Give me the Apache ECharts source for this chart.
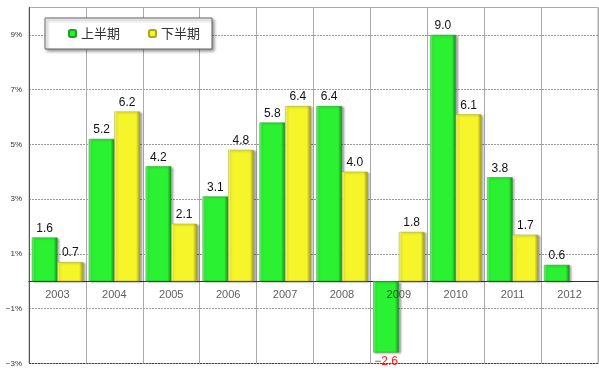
<!DOCTYPE html>
<html><head><meta charset="utf-8">
<script src="https://cdn.jsdelivr.net/npm/echarts@6/dist/echarts.min.js"></script>
<style>html,body{margin:0;padding:0;background:#fff}#c{width:599px;height:371px}</style>
</head><body><div id="c"></div>
<script>
const categories = ['2003','2004','2005','2006','2007','2008','2009','2010','2011','2012'];
const firstHalf = [1.6, 5.2, 4.2, 3.1, 5.8, 6.4, -2.6, 9.0, 3.8, 0.6];
const secondHalf = [0.7, 6.2, 2.1, 4.8, 6.4, 4.0, 1.8, 6.1, 1.7, null];
const seriesNames = ['上半期', '下半期'];

function grad(light, mid, dark) {
  return new echarts.graphic.LinearGradient(0, 0, 1, 0, [
    {offset: 0, color: light}, {offset: 0.12, color: mid}, {offset: 0.85, color: mid}, {offset: 1, color: dark}
  ]);
}
function toData(arr) {
  return arr.map(v => v == null ? null : (v < 0 ? {value: v, label: {position: 'bottom', color: '#ff2020'}} : v));
}
const labelCfg = {show: true, position: 'top', distance: 3, color: '#111', fontSize: 12, fontFamily: 'Liberation Sans, Arial, sans-serif', formatter: p => p.value.toFixed(1).replace('-', '−')};
const chart = echarts.init(document.getElementById('c'), null, {renderer: 'canvas'});
chart.setOption({
  animation: false,
  grid: {left: 29, right: 1, top: 7.5, bottom: 7.5, show: true, borderColor: '#aaa', borderWidth: 1, backgroundColor: '#fff'},
  legend: {
    left: 45, top: 18, padding: [9, 12, 9, 23], itemGap: 28, itemWidth: 7, itemHeight: 7,
    backgroundColor: '#fff', borderColor: '#666', borderWidth: 1,
    shadowBlur: 3, shadowOffsetX: 2, shadowOffsetY: 2, shadowColor: 'rgba(0,0,0,0.45)',
    textStyle: {fontSize: 13, color: '#333', fontFamily: 'Noto Sans CJK JP'},
    data: seriesNames
  },
  xAxis: {
    type: 'category', data: categories,
    axisLine: {onZero: true, lineStyle: {color: '#333', width: 1}},
    axisTick: {show: false},
    axisLabel: {show: false},
    splitLine: {show: true, lineStyle: {color: '#aaa', width: 1}}
  },
  yAxis: {
    type: 'value', min: -3, max: 10, interval: 2,
    axisLine: {show: true, lineStyle: {color: '#555'}},
    axisTick: {show: false},
    axisLabel: {fontSize: 8, color: '#333', margin: 7, fontFamily: 'Liberation Sans, Arial, sans-serif', formatter: v => v === 10 ? '' : (v < 0 ? '−' + (-v) : v) + '%'},
    splitLine: {show: true, lineStyle: {color: ['#444', '#999', '#999', '#999', '#999', '#999', '#999', '#aaa'], type: [2, 1], width: 1}}
  },
  series: [{
    name: seriesNames[0], type: 'bar', data: toData(firstHalf), barGap: '0%', barCategoryGap: '10%',
    itemStyle: {color: grad('#7cfb80', '#2af232', '#16891a'), borderColor: '#1e9e22', borderWidth: 0.5,
      shadowColor: 'rgba(0,0,0,0.35)', shadowBlur: 2, shadowOffsetX: 2, shadowOffsetY: 1},
    label: labelCfg
  }, {
    name: seriesNames[1], type: 'bar', data: toData(secondHalf),
    itemStyle: {color: grad('#fbfb9a', '#f5f52a', '#9a9a16'), borderColor: '#a8a820', borderWidth: 0.5,
      shadowColor: 'rgba(0,0,0,0.35)', shadowBlur: 2, shadowOffsetX: 2, shadowOffsetY: 1},
    label: labelCfg
  }, {
    name: 'axisLabels', type: 'scatter', symbolSize: 0, silent: true, z: 5,
    data: categories.map(c => [c, 0]),
    label: {show: true, position: 'bottom', distance: 8, fontSize: 11, color: '#333', fontFamily: 'Liberation Sans, Arial, sans-serif', formatter: p => p.value[0]}
  }]
});
</script></body></html>
